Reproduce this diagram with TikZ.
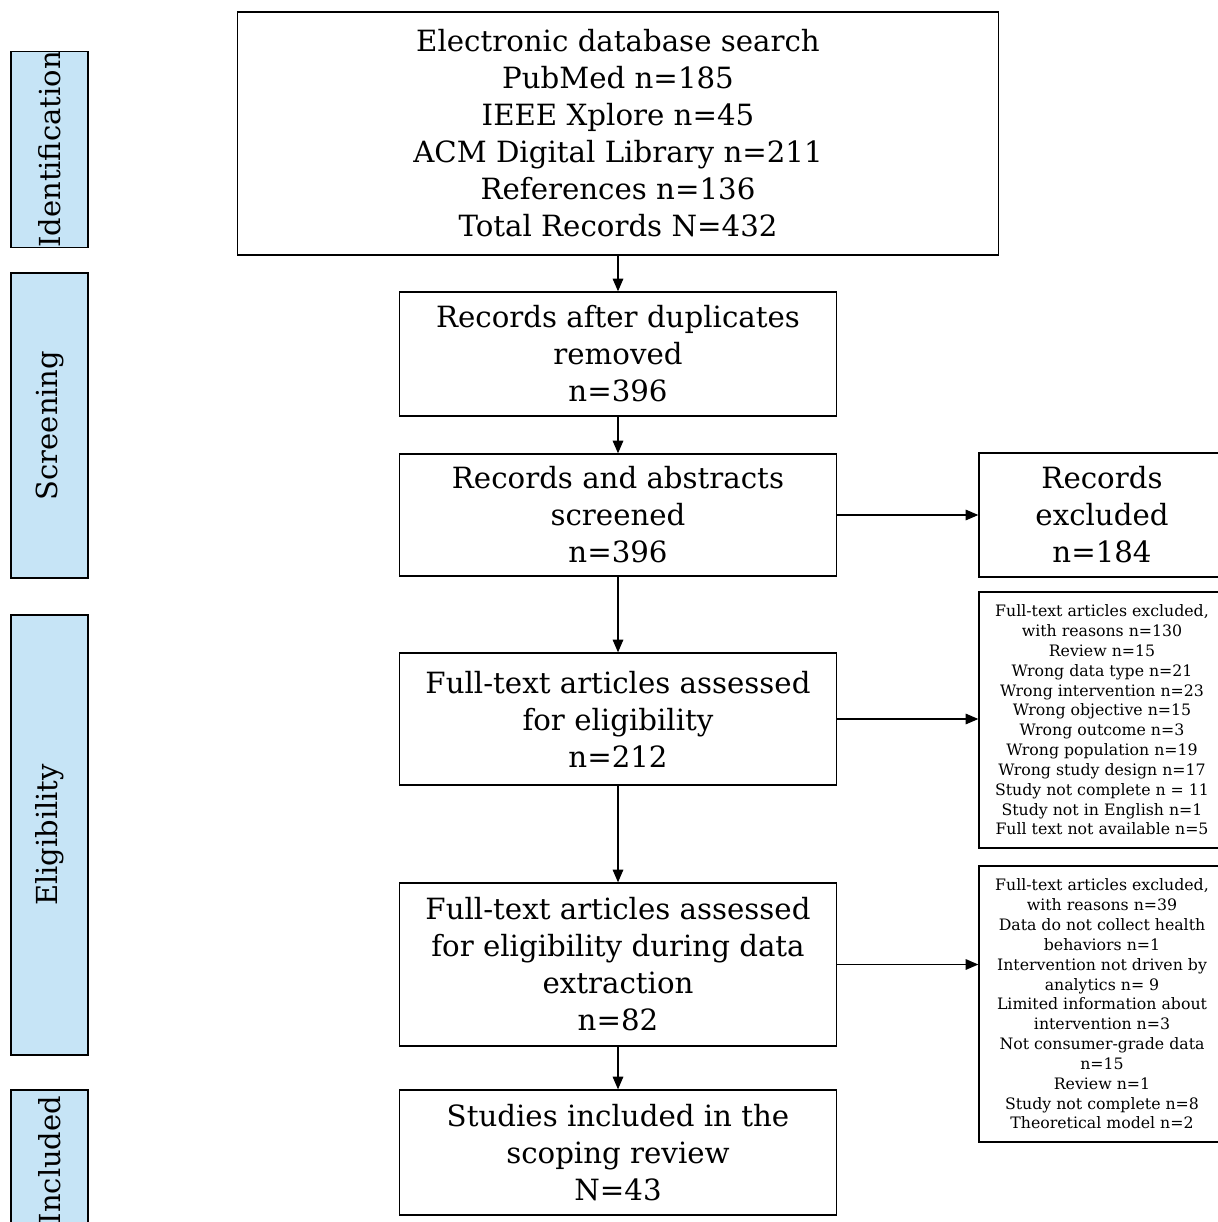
\documentclass[tikz,border=0pt]{standalone}
\usepackage{fontspec}
\setmainfont{DejaVu Serif}
\usetikzlibrary{arrows.meta}
\definecolor{fasecol}{RGB}{198,228,246}
\tikzset{
  box/.style={draw,line width=0.9pt,align=center,inner sep=0pt,font=\fontsize{20.8}{26.3}\selectfont},
  smallbox/.style={box,font=\fontsize{11.2}{14.1}\selectfont},
  fase/.style={draw,line width=0.9pt,fill=fasecol,rotate=90,inner sep=0pt,minimum height=1.925cm,font=\fontsize{20.6}{24}\selectfont},
  freccia/.style={-{Triangle[length=9pt,width=7.5pt]},line width=0.9pt}
}
\begin{document}
\begin{tikzpicture}[x=0.025cm,y=-0.025cm]
    \useasboundingbox (0,0) rectangle (1217,1222);
    %fasi
    \node[fase,minimum width=4.875cm] (ident) at (49.5,149.5) {Identification};
    \node[fase,minimum width=7.625cm] (screen) at (49.5,425.5) {Screening};
    \node[fase,minimum width=11cm] (elig) at (49.5,835) {Eligibility};
    \node[fase,minimum width=3.5cm] (incl) at (49.5,1160) {Included};

    %riquadri centrali
    \node[box,minimum width=19.025cm,minimum height=6.075cm] (search) at (618,133.5)
        {Electronic database search\\PubMed n=185\\IEEE Xplore n=45\\ACM Digital Library n=211\\References n=136\\Total Records N=432};
    \node[box,minimum width=10.925cm,minimum height=3.1cm] (dedup) at (618,354)
        {Records after duplicates\\removed\\n=396};
    \node[box,minimum width=10.925cm,minimum height=3.05cm] (screened) at (618,515)
        {Records and abstracts\\screened\\n=396};
    \node[box,minimum width=10.925cm,minimum height=3.3cm] (fulltext) at (618,719)
        {Full-text articles assessed\\for eligibility\\n=212};
    \node[box,minimum width=10.925cm,minimum height=4.075cm] (extract) at (618,964.5)
        {Full-text articles assessed\\for eligibility during data\\extraction\\n=82};
    \node[box,minimum width=10.925cm,minimum height=3.125cm] (studies) at (618,1152.5)
        {Studies included in the\\scoping review\\N=43};

    %esclusi
    \node[box,minimum width=6.15cm,minimum height=3.1cm] (excl1) at (1102,515)
        {Records\\excluded\\n=184};
    \node[smallbox,minimum width=6.15cm,minimum height=6.4cm] (excl2) at (1102,720)
        {Full-text articles excluded,\\with reasons n=130\\Review n=15\\Wrong data type n=21\\Wrong intervention n=23\\Wrong objective n=15\\Wrong outcome n=3\\Wrong population n=19\\Wrong study design n=17\\Study not complete n = 11\\Study not in English n=1\\Full text not available n=5};
    \node[smallbox,minimum width=6.15cm,minimum height=6.9cm] (excl3) at (1102,1004)
        {Full-text articles excluded,\\with reasons n=39\\Data do not collect health\\behaviors n=1\\Intervention not driven by\\analytics n= 9\\Limited information about\\intervention n=3\\Not consumer-grade data\\n=15\\Review n=1\\Study not complete n=8\\Theoretical model n=2};

    %frecce
    \draw[freccia] (search) -- (dedup);
    \draw[freccia] (dedup) -- (screened);
    \draw[freccia] (screened) -- (fulltext);
    \draw[freccia] (fulltext) -- (extract);
    \draw[freccia] (extract) -- (studies);
    \draw[freccia] (screened.east) -- (excl1.west);
    \draw[freccia] (fulltext.east) -- (fulltext.east -| excl2.west);
    \draw[freccia] (extract.east) -- (extract.east -| excl3.west);
\end{tikzpicture}
\end{document}
